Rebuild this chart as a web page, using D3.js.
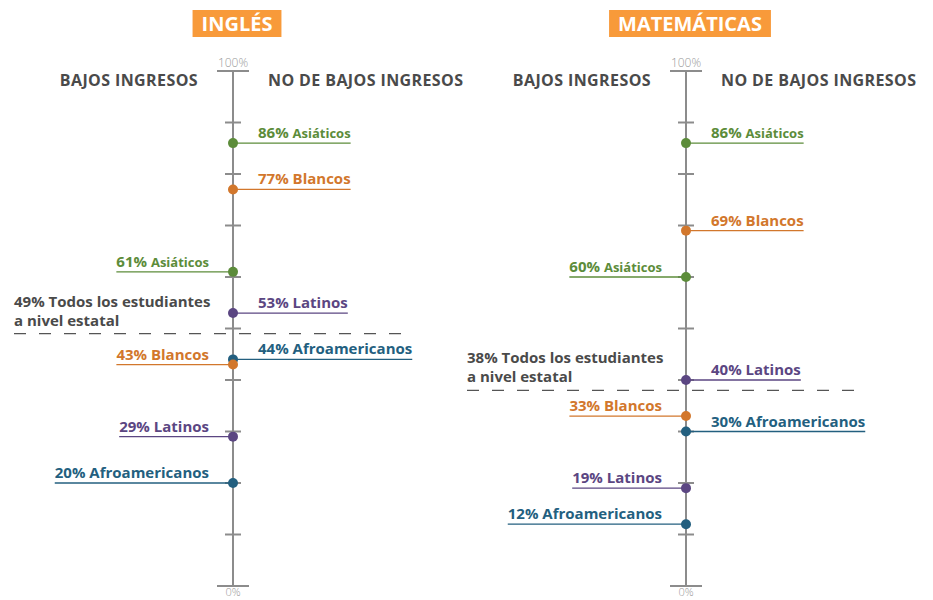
<!DOCTYPE html>
<html><head><meta charset="utf-8">
<script src="https://cdn.jsdelivr.net/npm/d3@7"></script>
<style>
html,body{margin:0;padding:0;background:#fff;}
svg text{font-family:"Open Sans",Lato,sans-serif;}
</style></head>
<body>
<svg id="chart" width="933" height="600"></svg>
<script>
const subjects = ["INGLÉS", "MATEMÁTICAS"];
const groups = ["Asiáticos", "Blancos", "Latinos", "Afroamericanos"];
const groupColors = ["#5c8c3a", "#d2772c", "#5b4682", "#235f7f"];
const lowIncome = [[61, 43, 29, 20], [60, 33, 19, 12]];
const nonLowIncome = [[86, 77, 53, 44], [86, 69, 40, 30]];
const stateAverage = [49, 38];
const stateLabelLines = ["Todos los estudiantes", "a nivel estatal"];
const sideHeaders = ["BAJOS INGRESOS", "NO DE BAJOS INGRESOS"];
const tickValues = [0, 10, 20, 30, 40, 50, 60, 70, 80, 90, 100];

const svg = d3.select("#chart");
const axisX = d3.scalePoint().domain(subjects).range([233, 686]);
const y = d3.scaleLinear().domain([0, 100]).range([586, 71]);
const axisColor = "#8c8c8c";
const darkText = "#4a4a4a";

subjects.forEach((subj, si) => {
  const ax = axisX(subj);
  const g = svg.append("g");

  // title box
  const title = g.append("text").text(subj)
    .attr("x", ax + 4).attr("y", 31)
    .attr("text-anchor", "middle")
    .attr("fill", "#fff").attr("font-weight", 700).attr("font-size", 20);
  const tw = title.node().getComputedTextLength();
  g.insert("rect", "text")
    .attr("x", ax + 4 - tw / 2 - 9).attr("y", 10)
    .attr("width", tw + 18).attr("height", 27)
    .attr("fill", "#f89a3a");

  // headers
  g.append("text").text(sideHeaders[0])
    .attr("x", ax - 35).attr("y", 86).attr("text-anchor", "end")
    .attr("fill", darkText).attr("font-weight", 700).attr("font-size", 16)
    .attr("letter-spacing", 0.4);
  g.append("text").text(sideHeaders[1])
    .attr("x", ax + 35).attr("y", 86).attr("text-anchor", "start")
    .attr("fill", darkText).attr("font-weight", 700).attr("font-size", 16)
    .attr("letter-spacing", 0.4);

  // axis
  g.append("line").attr("x1", ax).attr("x2", ax)
    .attr("y1", y(100)).attr("y2", y(0))
    .attr("stroke", axisColor).attr("stroke-width", 2);
  g.selectAll(".tick").data(tickValues).enter().append("line")
    .attr("x1", d => ax - ((d === 0 || d === 100) ? 16 : 8))
    .attr("x2", d => ax + ((d === 0 || d === 100) ? 16 : 8))
    .attr("y1", d => y(d)).attr("y2", d => y(d))
    .attr("stroke", axisColor).attr("stroke-width", 2);
  g.append("text").text("100%").attr("x", ax).attr("y", y(100) - 4)
    .attr("text-anchor", "middle").attr("fill", "#9a9a9a").attr("font-size", 12).attr("font-weight", 300);
  g.append("text").text("0%").attr("x", ax).attr("y", 596)
    .attr("text-anchor", "middle").attr("fill", "#9a9a9a").attr("font-size", 11).attr("font-weight", 300);

  // state average dashed line
  const sy = y(stateAverage[si]);
  g.append("line").attr("x1", ax - 219).attr("x2", ax + 168)
    .attr("y1", sy).attr("y2", sy)
    .attr("stroke", "#555").attr("stroke-width", 1.2)
    .attr("stroke-dasharray", "12,13");
  g.append("text").text(stateAverage[si] + "% " + stateLabelLines[0])
    .attr("x", ax - 219).attr("y", sy - 27)
    .attr("fill", darkText).attr("font-weight", 700).attr("font-size", 15);
  g.append("text").text(stateLabelLines[1])
    .attr("x", ax - 219).attr("y", sy - 8)
    .attr("fill", darkText).attr("font-weight", 700).attr("font-size", 15);

  function addLabel(val, gi, side) {
    const cy = y(val);
    const col = groupColors[gi];
    const t = g.append("text").attr("y", cy - 5)
      .attr("fill", col).attr("font-weight", 700).attr("font-size", 15);
    t.append("tspan").text(val + "% ");
    t.append("tspan").text(groups[gi])
      .attr("font-size", groups[gi] === "Asiáticos" ? 13 : 15);
    const w = t.node().getComputedTextLength();
    if (side > 0) {
      t.attr("x", ax + 25);
      g.append("line").attr("x1", ax).attr("x2", ax + 25 + w)
        .attr("y1", cy).attr("y2", cy).attr("stroke", col).attr("stroke-width", 1.3);
    } else {
      t.attr("x", ax - 24 - w);
      g.append("line").attr("x1", ax - 24 - w).attr("x2", ax)
        .attr("y1", cy).attr("y2", cy).attr("stroke", col).attr("stroke-width", 1.3);
    }
  }
  nonLowIncome[si].forEach((v, gi) => addLabel(v, gi, 1));
  lowIncome[si].forEach((v, gi) => addLabel(v, gi, -1));

  const dots = [];
  nonLowIncome[si].forEach((v, gi) => dots.push({ v, gi }));
  lowIncome[si].forEach((v, gi) => dots.push({ v, gi }));
  g.selectAll(".dot").data(dots).enter().append("circle")
    .attr("cx", ax).attr("cy", d => y(d.v)).attr("r", 5)
    .attr("fill", d => groupColors[d.gi]);
});
</script>
</body></html>
